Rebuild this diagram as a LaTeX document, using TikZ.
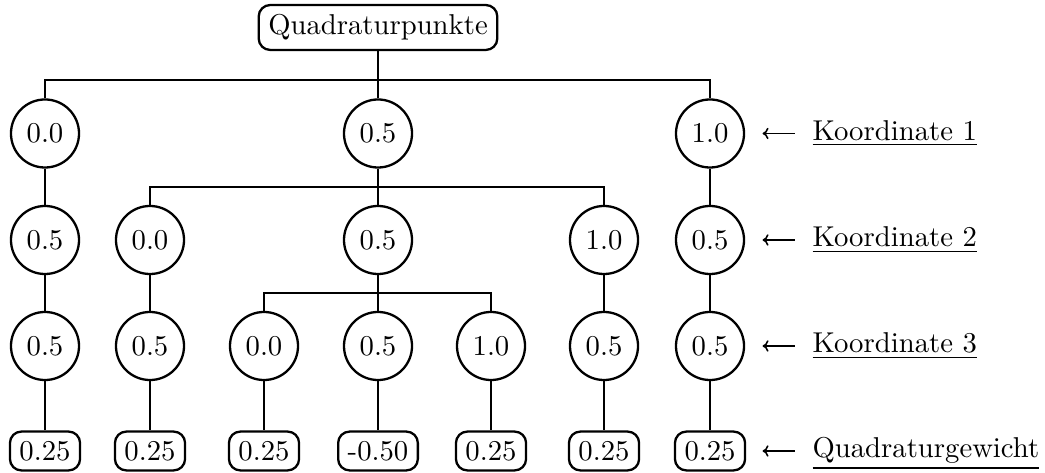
\documentclass[tikz,border=0pt]{standalone}
\usetikzlibrary{arrows.meta}
\begin{document}
\begin{tikzpicture}[x=0.34843pt,y=-0.34843pt,
  every node/.style={font=\normalsize},
  pt/.style={draw,circle,thick},
  wbox/.style={draw,rounded corners,thick},
  edge/.style={thick},
  pointer/.style={line width=0.55pt,{To[length=2.1pt,width=4pt]}-},
  lbl/.style={anchor=base west,inner sep=0pt}]
\useasboundingbox (0,0) rectangle (1045,473);
% columns: 45,150,264,378,491,604,710 ; rows: 133.5, 240, 346, 451
\coordinate (b1) at (0,80);
\coordinate (b2) at (0,187);
\coordinate (b3) at (0,293);
\node[wbox] (root) at (378,27.5) {Quadraturpunkte};
% row 1
\node[pt] (r1a) at (45,133.5) {0.0};
\node[pt] (r1b) at (378,133.5) {0.5};
\node[pt] (r1c) at (710,133.5) {1.0};
% row 2
\node[pt] (r2a) at (45,240) {0.5};
\node[pt] (r2b) at (150,240) {0.0};
\node[pt] (r2c) at (378,240) {0.5};
\node[pt] (r2d) at (604,240) {1.0};
\node[pt] (r2e) at (710,240) {0.5};
% row 3
\node[pt] (r3a) at (45,346) {0.5};
\node[pt] (r3b) at (150,346) {0.5};
\node[pt] (r3c) at (264,346) {0.0};
\node[pt] (r3d) at (378,346) {0.5};
\node[pt] (r3e) at (491,346) {1.0};
\node[pt] (r3f) at (604,346) {0.5};
\node[pt] (r3g) at (710,346) {0.5};
% leaves
\node[wbox] (w1) at (45,451) {0.25};
\node[wbox] (w2) at (150,451) {0.25};
\node[wbox] (w3) at (264,451) {0.25};
\node[wbox] (w4) at (378,451) {-0.50};
\node[wbox] (w5) at (491,451) {0.25};
\node[wbox] (w6) at (604,451) {0.25};
\node[wbox] (w7) at (710,451) {0.25};
% tree connectors
\draw[edge] (root.south) -- (root |- b1);
\draw[edge] (r1a.north) |- (r1c.north |- b1) -- (r1c.north);
\draw[edge] (r1b.north) -- (r1b |- b1);
\draw[edge] (r1b.south) -- (r1b |- b2);
\draw[edge] (r2b.north) |- (r2d.north |- b2) -- (r2d.north);
\draw[edge] (r2c.north) -- (r2c |- b2);
\draw[edge] (r2c.south) -- (r2c |- b3);
\draw[edge] (r3c.north) |- (r3e.north |- b3) -- (r3e.north);
\draw[edge] (r3d.north) -- (r3d |- b3);
\draw[edge] (r1a) -- (r2a);
\draw[edge] (r2a) -- (r3a);
\draw[edge] (r2b) -- (r3b);
\draw[edge] (r1c) -- (r2e);
\draw[edge] (r2e) -- (r3g);
\draw[edge] (r2d) -- (r3f);
\draw[edge] (r3a) -- (w1);
\draw[edge] (r3b) -- (w2);
\draw[edge] (r3c) -- (w3);
\draw[edge] (r3d) -- (w4);
\draw[edge] (r3e) -- (w5);
\draw[edge] (r3f) -- (w6);
\draw[edge] (r3g) -- (w7);
% right-hand labels
\node[lbl] (l1) at (812,140.5) {\underline{Koordinate 1}};
\node[lbl] (l2) at (812,247) {\underline{Koordinate 2}};
\node[lbl] (l3) at (812,353) {\underline{Koordinate 3}};
\node[lbl] (l4) at (812,458) {\underline{Quadraturgewicht}};
\coordinate (h1) at (762.5,133.5); \coordinate (t1) at (795,133.5);
\coordinate (h2) at (762.5,240);   \coordinate (t2) at (795,240);
\coordinate (h3) at (762.5,346);   \coordinate (t3) at (795,346);
\coordinate (h4) at (762.5,451);   \coordinate (t4) at (795,451);
\draw[pointer] (h1) -- (t1);
\draw[pointer] (h2) -- (t2);
\draw[pointer] (h3) -- (t3);
\draw[pointer] (h4) -- (t4);
\end{tikzpicture}
\end{document}
